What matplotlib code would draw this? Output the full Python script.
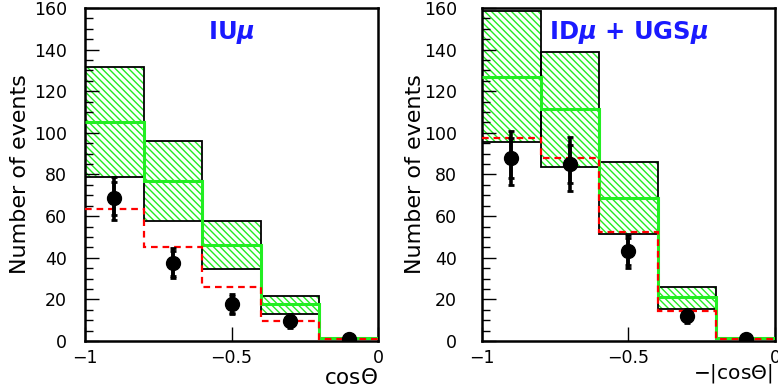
import numpy as np
import matplotlib
matplotlib.use("Agg")
import matplotlib.pyplot as plt
from matplotlib.ticker import MultipleLocator

plt.rcParams['font.family'] = ['DejaVu Sans']
plt.rcParams['mathtext.fontset'] = 'custom'
plt.rcParams['mathtext.rm'] = 'DejaVu Sans'
plt.rcParams['mathtext.it'] = 'DejaVu Sans:italic:bold'
plt.rcParams['hatch.linewidth'] = 1.0

# bin edges and data point positions
edges = [-1.0, -0.8, -0.6, -0.4, -0.2, 0.0]
x_pts = [-0.9, -0.7, -0.5, -0.3, -0.1]

# left panel: IU mu
iu_upper = [131.7, 96.0, 57.5, 21.8]
iu_lower = [78.8, 57.5, 34.5, 13.0]
iu_central = [105.0, 76.8, 46.0, 17.6, 1.5]
iu_red = [63.3, 45.3, 26.1, 9.8, 0.8]
iu_data = [68.5, 37.4, 17.6, 9.6, 0.8]
iu_stat = [8.0, 6.0, 4.0, 2.5, 0.5]
iu_tot = [10.5, 7.2, 4.8, 3.2, 0.6]

# right panel: ID mu + UGS mu
id_upper = [158.6, 139.0, 86.0, 25.9]
id_lower = [95.4, 83.8, 51.5, 15.5]
id_central = [126.9, 111.5, 68.9, 20.9, 1.2]
id_red = [97.3, 87.7, 52.6, 14.6, 1.0]
id_data = [88.0, 85.0, 43.0, 12.0, 1.0]
id_stat = [9.5, 9.0, 6.5, 2.5, 0.5]
id_tot = [13.0, 12.8, 8.0, 3.5, 0.6]

GREEN = '#22ee22'
BLUE = '#1a1aff'


def panel(ax, upper, lower, central, red, data, stat, tot, label, xlabel,
          ypad, ylpad, xlx, xly, xlsize):
    lo = np.array(lower)
    hi = np.array(upper)
    left = np.array(edges[:len(hi)])
    # hatched band
    ax.bar(left, hi - lo, bottom=lo, width=0.2, align='edge', fill=False,
           hatch='\\\\\\\\\\', edgecolor=GREEN, lw=0, zorder=1)
    ax.bar(left, hi - lo, bottom=lo, width=0.2, align='edge', fill=False,
           edgecolor='black', lw=1.3, zorder=2)
    ax.stairs(central, edges, baseline=None, color=GREEN, lw=2.2, zorder=3)
    ax.stairs(red, edges, baseline=None, color='red', lw=1.6, ls=(0, (3, 2.2)), zorder=4)
    # data points
    ax.errorbar(x_pts, data, yerr=tot, fmt='none', ecolor='black', elinewidth=2.6,
                capsize=2.5, capthick=2, zorder=5)
    ax.errorbar(x_pts, data, yerr=stat, fmt='o', color='black', ms=10,
                elinewidth=2.6, capsize=2.5, capthick=2, zorder=6)

    ax.set_xlim(-1, 0)
    ax.set_ylim(0, 160)
    ax.set_xticks([-1, -0.5, 0])
    ax.set_xticklabels(['\u22121', '\u22120.5', '0'])
    ax.yaxis.set_major_locator(MultipleLocator(20))
    ax.yaxis.set_minor_locator(MultipleLocator(5))
    ax.tick_params(axis='both', which='major', direction='in', length=10, width=1,
                   labelsize=12.5)
    ax.tick_params(axis='both', which='minor', direction='in', length=6, width=1)
    ax.tick_params(axis='x', which='major', pad=6)
    ax.tick_params(axis='y', which='major', pad=ypad)
    for s in ax.spines.values():
        s.set_linewidth(1.8)
    ax.set_ylabel('Number of events', fontsize=16, labelpad=ylpad)
    ax.set_xlabel(xlabel, fontsize=xlsize, ha='right')
    ax.xaxis.set_label_coords(xlx, xly)
    ax.text(-0.5, 148, label, color=BLUE, fontsize=17.5, fontweight='bold',
            ha='center', va='center')


fig = plt.figure(figsize=(7.78, 3.87), dpi=100)
ax1 = fig.add_axes([0.1093, 0.1189, 0.3766, 0.8605])
ax2 = fig.add_axes([0.6195, 0.1189, 0.3766, 0.8605])

panel(ax1, iu_upper, iu_lower, iu_central, iu_red, iu_data, iu_stat, iu_tot,
      r'IU$\mu$', r'cos$\Theta$', 13, 3, 1.0, -0.08, 15.5)
panel(ax2, id_upper, id_lower, id_central, id_red, id_data, id_stat, id_tot,
      r'ID$\mu$ + UGS$\mu$', r'$-$|cos$\Theta$|', 18, -1, 0.99, -0.062, 14.5)

fig.savefig('out.png', dpi=100)
